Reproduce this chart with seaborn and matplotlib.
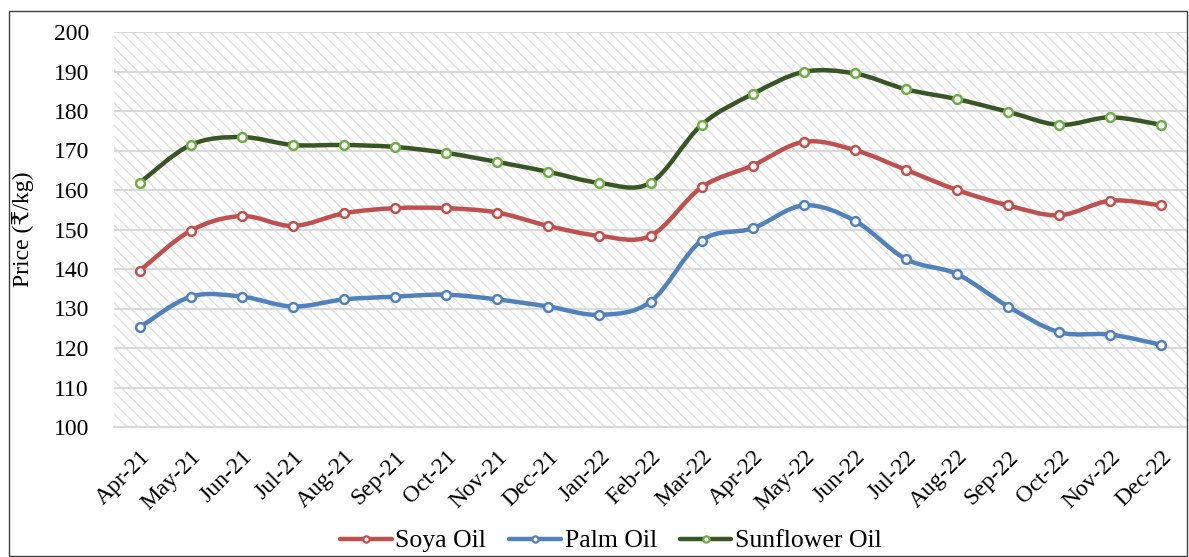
import numpy as np
import pandas as pd
import matplotlib
import matplotlib.pyplot as plt
import seaborn as sns
from matplotlib.path import Path
from matplotlib.patches import PathPatch, Rectangle
from matplotlib.lines import Line2D

matplotlib.use("Agg")

MONTHS = [
    "Apr-21", "May-21", "Jun-21", "Jul-21", "Aug-21", "Sep-21", "Oct-21",
    "Nov-21", "Dec-21", "Jan-22", "Feb-22", "Mar-22", "Apr-22", "May-22",
    "Jun-22", "Jul-22", "Aug-22", "Sep-22", "Oct-22", "Nov-22", "Dec-22",
]
SOYA = [139.5, 149.7, 153.4, 150.9, 154.1, 155.4, 155.4, 154.3, 150.9, 148.4,
        148.4, 160.7, 166.2, 172.2, 170.1, 165.1, 160.0, 156.1, 153.6, 157.3,
        156.1]
PALM = [125.2, 133.0, 133.0, 130.5, 132.3, 133.0, 133.5, 132.3, 130.5, 128.4,
        131.7, 147.2, 150.3, 156.1, 152.2, 142.5, 138.7, 130.5, 124.0, 123.4,
        120.8]
SUNFLOWER = [161.8, 171.4, 173.4, 171.4, 171.4, 170.9, 169.4, 167.1, 164.6,
             161.8, 161.8, 176.5, 184.3, 189.9, 189.5, 185.5, 183.0, 179.8,
             176.5, 178.4, 176.5]

SERIES = [
    ("Soya Oil", SOYA, "#c0504d", "#c0504d"),
    ("Palm Oil", PALM, "#4f81bd", "#4f81bd"),
    ("Sunflower Oil", SUNFLOWER, "#375623", "#70ad47"),
]

GRID_COLOR = "#d9d9d9"
HATCH_COLOR = "#dedede"
FONT = ["Liberation Serif", "DejaVu Serif"]
FS = 17


def smooth_path(xs, ys):
    """Catmull-Rom style Bezier path through the data points (Excel-like smoothing)."""
    pts = np.column_stack([xs, ys]).astype(float)
    n = len(pts)
    verts = [pts[0]]
    codes = [Path.MOVETO]
    for i in range(n - 1):
        p0 = pts[i - 1] if i > 0 else pts[i]
        p1 = pts[i]
        p2 = pts[i + 1]
        p3 = pts[i + 2] if i + 2 < n else pts[i + 1]
        c1 = p1 + (p2 - p0) / 6.0
        c2 = p2 - (p3 - p1) / 6.0
        verts += [c1, c2, p2]
        codes += [Path.CURVE4] * 3
    return Path(verts, codes)


def main():
    sns.set_style("white")
    plt.rcParams["font.family"] = FONT
    plt.rcParams["text.color"] = "black"
    plt.rcParams["xtick.color"] = "black"
    plt.rcParams["ytick.color"] = "black"
    plt.rcParams["axes.labelcolor"] = "black"
    plt.rcParams["hatch.color"] = HATCH_COLOR
    plt.rcParams["hatch.linewidth"] = 0.9

    fig = plt.figure(figsize=(11.89, 5.57), dpi=100)
    ax = fig.add_axes([114 / 1189, 1 - 427 / 557, 1073 / 1189, 395 / 557])

    # hatched plot background
    ax.add_patch(Rectangle((0, 0), 1, 1, transform=ax.transAxes,
                           facecolor="white", edgecolor=HATCH_COLOR,
                           linewidth=0, hatch="\\\\\\", zorder=0))

    xpos = np.arange(len(MONTHS))
    rows = []
    for name, vals, _, _ in SERIES:
        for x, v in zip(xpos, vals):
            rows.append({"x": x, "price": v, "oil": name})
    df = pd.DataFrame(rows)

    handles = []
    for name, vals, line_color, marker_color in SERIES:
        sub = df[df["oil"] == name]
        ax.add_patch(PathPatch(smooth_path(sub["x"], sub["price"]),
                               facecolor="none", edgecolor=line_color,
                               linewidth=3.2, capstyle="round", zorder=3))
        sns.scatterplot(data=sub, x="x", y="price", ax=ax, color="white",
                        edgecolor=marker_color, linewidth=1.8, s=40,
                        zorder=4, legend=False)
        handles.append(Line2D([0], [0], color=line_color, linewidth=3.2,
                              marker="o", markersize=4.5,
                              markerfacecolor="white",
                              markeredgecolor=marker_color,
                              markeredgewidth=1.6))

    ax.set_xlim(-0.5, len(MONTHS) - 0.5)
    ax.set_ylim(100, 200)
    ax.set_yticks(np.arange(100, 201, 10))
    ax.yaxis.grid(True, color=GRID_COLOR, linewidth=1.5, zorder=1)
    ax.set_axisbelow(True)
    ax.set_xticks(xpos)
    ax.set_xticklabels(MONTHS, rotation=45, ha="right",
                       rotation_mode="anchor", fontsize=FS)
    ax.set_xticks(np.arange(-0.5, len(MONTHS), 1), minor=True)
    ax.tick_params(axis="x", which="major", length=0, pad=14)
    ax.tick_params(axis="x", which="minor", length=6, width=1.2,
                   color=GRID_COLOR, direction="out")
    ax.tick_params(axis="y", length=0, pad=18, labelsize=FS)

    for side in ["top", "right", "left"]:
        ax.spines[side].set_visible(False)
    ax.spines["bottom"].set_color(GRID_COLOR)
    ax.spines["bottom"].set_linewidth(1.5)
    ax.spines["bottom"].set_zorder(2)

    ax.set_xlabel("")
    ax.set_ylabel("Price (₹/kg)", fontsize=FS)
    ax.yaxis.set_label_coords(-0.075, 0.5)

    fig.legend(handles, [s[0] for s in SERIES], loc="center",
               bbox_to_anchor=(611 / 1189, 1 - 541 / 557), ncol=3,
               frameon=False, fontsize=18.5, handlelength=2.0,
               handletextpad=0.15, columnspacing=0.9)

    # outer chart border
    fig.patches.append(Rectangle((9 / 1189, 1 / 557), 1178 / 1189, 545 / 557,
                                 transform=fig.transFigure, fill=False,
                                 edgecolor="#404040", linewidth=1.0))

    fig.savefig("out.png", dpi=100)
    plt.close(fig)


if __name__ == "__main__":
    main()
